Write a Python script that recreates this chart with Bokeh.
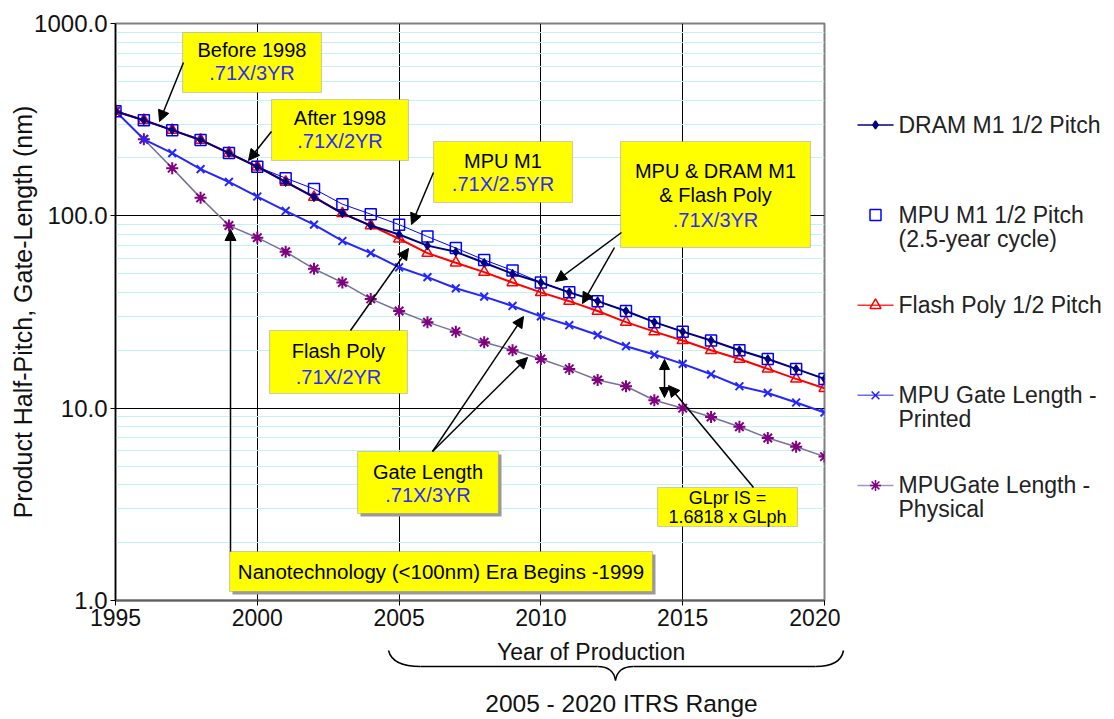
from bokeh.plotting import figure
from bokeh.layouts import column, row
from bokeh.models import Range1d, FixedTicker, PrintfTickFormatter, BoxAnnotation, Label, Arrow, NormalHead
from bokeh.core.properties import value
from bokeh.embed import file_html
from bokeh.resources import INLINE

# ---------------- data ----------------
years = list(range(1995, 2021))
dram_m1 = [350, 314, 279, 248, 212, 180, 150, 125, 103, 89, 80, 70, 65, 57, 50, 45, 40, 36, 32, 28, 25, 22.5, 20, 18, 16, 14.2]
mpu_m1 = [350, 314, 279, 248, 212, 180, 157, 138, 115, 102, 90, 78, 68, 59, 52, 45, 40, 36, 32, 28, 25, 22.5, 20, 18, 16, 14.2]
flash_poly = [350, 314, 279, 248, 212, 180, 150, 125, 103, 89, 76, 64, 57, 51, 45, 40, 36, 32, 28, 25, 22.5, 20, 18, 16, 14.2, 12.7]
mpu_gl_printed = [350, 250, 212, 175, 150, 126, 106, 90, 74, 64, 54, 48, 42, 38, 34, 30, 27, 24, 21, 19, 17, 15, 13, 12, 10.7, 9.5]
mpu_gl_physical = [350, 250, 177, 124, 89, 77, 65, 53, 45, 37, 32, 28, 25, 22, 20, 18, 16, 14, 13, 11, 10, 9, 8, 7, 6.3, 5.6]

x_ticks = [1995, 2000, 2005, 2010, 2015, 2020]
y_ticks = [1, 10, 100, 1000]
y_minor = [m * d for d in (1, 10, 100) for m in range(2, 10)]

legend_labels = ["DRAM M1 1/2 Pitch", "MPU M1 1/2 Pitch\n(2.5-year cycle)", "Flash Poly 1/2 Pitch",
                 "MPU Gate Length -\nPrinted", "MPUGate Length -\nPhysical"]

FONT = "Liberation Sans"

# ---------------- main plot ----------------
p = figure(width=840, height=637, y_axis_type="log",
           x_range=Range1d(1995, 2020), y_range=Range1d(1, 1000),
           output_backend="svg", toolbar_location=None,
           min_border_left=115, min_border_right=16, min_border_top=23, min_border_bottom=37)
p.background_fill_color = "white"
p.border_fill_color = "white"
p.outline_line_color = "#808080"
p.outline_line_width = 2

p.xaxis.ticker = FixedTicker(ticks=x_ticks, minor_ticks=[])
p.yaxis.ticker = FixedTicker(ticks=y_ticks, minor_ticks=y_minor)
p.yaxis.formatter = PrintfTickFormatter(format="%.1f")
p.xgrid.grid_line_color = "black"
p.xgrid.grid_line_width = 1
p.ygrid.grid_line_color = "black"
p.ygrid.grid_line_width = 1
p.ygrid.minor_grid_line_color = "#c2f3f3"
p.ygrid.minor_grid_line_width = 1

for ax in (p.xaxis, p.yaxis):
    ax.major_label_text_font = FONT
    ax.major_label_text_font_size = "23px"
    ax.major_label_text_color = "#111111"
    ax.axis_label_text_font = FONT
    ax.axis_label_text_font_size = "25px"
    ax.axis_label_text_font_style = "normal"
    ax.axis_label_text_color = "#111111"
    ax.minor_tick_line_color = None
    ax.major_tick_in = 0
    ax.major_tick_out = 5
    ax.major_tick_line_color = "black"
    ax.major_label_standoff = 3

p.yaxis.major_label_text_font_size = "24px"
p.yaxis.axis_label = "Product Half-Pitch, Gate-Length (nm)"
p.yaxis.axis_label_standoff = -6
p.yaxis.axis_line_color = "black"
p.yaxis.axis_line_width = 1.5
p.xaxis.axis_line_color = "#606060"
p.xaxis.axis_line_width = 2

# series
p.line(years, mpu_gl_physical, line_color="#76709a", line_width=1.5)
p.scatter(years, mpu_gl_physical, marker="asterisk", size=12, line_color="#800080", line_width=2)
p.line(years, mpu_gl_printed, line_color="#2626ff", line_width=2)
p.scatter(years, mpu_gl_printed, marker="x", size=11, line_color="#2626ff", line_width=2)
p.line(years, flash_poly, line_color="#ff0000", line_width=2)
p.scatter(years, flash_poly, marker="triangle", size=11, line_color="#ff0000", fill_color=None, line_width=1.5)
p.line(years, mpu_m1, line_color="#0000ff", line_width=1)
p.scatter(years, mpu_m1, marker="square", size=11, line_color="#0000ff", fill_color=None, line_width=1.5)
p.line(years, dram_m1, line_color="#000080", line_width=2)
p.scatter(years, dram_m1, marker="diamond", size=9, line_color="#000080", fill_color="#000080")


# ---------------- annotations (reference pixel geometry -> data) ----------------
def X(px):
    return 1995 + (px - 115) * 25.0 / 709.0


def Y(py):
    return 10 ** ((600 - py) * 3.0 / 577.0)


boxes = [
    # (left, top, right, bottom, lines[(text, y, color)], font, shadow)
    (182, 32, 321, 92, [("Before 1998", 49, "black"), (".71X/3YR", 72, "#2b2bff")], 20, False),
    (271, 99, 408, 160, [("After 1998", 117, "black"), (".71X/2YR", 140, "#2b2bff")], 20, False),
    (433, 141, 572, 202, [("MPU M1", 160, "black"), (".71X/2.5YR", 183, "#2b2bff")], 20, False),
    (620, 141, 810, 247, [("MPU & DRAM M1", 170, "black"), ("& Flash Poly", 194, "black"),
                          (".71X/3YR", 219, "#2b2bff")], 20, False),
    (269, 330, 407, 393, [("Flash Poly", 350, "black"), (".71X/2YR", 376, "#2b2bff")], 20, False),
    (357, 451, 498, 513, [("Gate Length", 471, "black"), (".71X/3YR", 494, "#2b2bff")], 20, True),
    (657, 487, 797, 526, [("GLpr IS =", 497, "black"), ("1.6818 x GLph", 516, "black")], 18, False),
    (229, 551, 652, 591, [("Nanotechnology (<100nm) Era Begins -1999", 571, "black")], 20.5, True),
]

for (l, t, r, b, lines, fs, shadow) in boxes:
    if shadow:
        p.add_layout(BoxAnnotation(left=X(l + 3), right=X(r + 3), top=Y(t + 3), bottom=Y(b + 3),
                                   fill_color="#9a9a9a", fill_alpha=1.0, line_color=None))
    p.add_layout(BoxAnnotation(left=X(l), right=X(r), top=Y(t), bottom=Y(b),
                               fill_color="#ffff00", fill_alpha=1.0,
                               line_color="#5a5aff", line_width=1.2))
    cx = (l + r) / 2.0
    for (txt, ty, col) in lines:
        p.add_layout(Label(x=X(cx), y=Y(ty), text=txt, text_align="center", text_baseline="middle",
                           text_font=FONT, text_font_size="%gpx" % fs, text_color=col))

arrows = [
    (183, 62, 159, 121),
    (271, 131, 248, 160),
    (433, 172, 411, 224),
    (621, 232, 555, 281),
    (614, 247, 582, 303),
    (350, 330, 408, 248),
    (432, 451, 523, 316),
    (432, 451, 527, 357),
    (753, 487, 668, 385),
    (230, 551, 230, 229),
]
for (x0, y0, x1, y1) in arrows:
    p.add_layout(Arrow(end=NormalHead(size=11, fill_color="black", line_color="black"),
                       x_start=X(x0), y_start=Y(y0), x_end=X(x1), y_end=Y(y1),
                       line_color="black", line_width=1.5))
# double headed arrow between printed and physical gate length
p.add_layout(Arrow(start=NormalHead(size=10, fill_color="black", line_color="black"),
                   end=NormalHead(size=10, fill_color="black", line_color="black"),
                   x_start=X(664), y_start=Y(397), x_end=X(664), y_end=Y(359),
                   line_color="black", line_width=1.5))

# ---------------- legend panel ----------------
pleg = figure(width=274, height=637, x_range=Range1d(840, 1114), y_range=Range1d(637, 0),
              output_backend="svg", toolbar_location=None, min_border=0,
              x_axis_location=None, y_axis_location=None)
pleg.grid.visible = False
pleg.outline_line_color = None
pleg.background_fill_color = "white"
pleg.border_fill_color = "white"

leg_style = [
    dict(line="#000080", marker="diamond", mline="#000080", mfill="#000080", size=8),
    dict(line=None, marker="square", mline="#0000ff", mfill=None, size=11),
    dict(line="#ff3030", marker="triangle", mline="#ff0000", mfill=None, size=11),
    dict(line="#6a6aff", marker="x", mline="#2020ff", mfill=None, size=11),
    dict(line="#9a96cc", marker="asterisk", mline="#800080", mfill=None, size=11),
]
leg_y0 = 112
leg_dy = 99.5
for i, (lab, st) in enumerate(zip(legend_labels, leg_style)):
    yy = leg_y0 + i * leg_dy
    if st["line"]:
        pleg.line([857, 893], [yy, yy], line_color=st["line"], line_width=1.5)
    pleg.scatter([875], [yy], marker=st["marker"], size=st["size"], line_color=st["mline"],
                 fill_color=st["mfill"], line_width=1.5)
    parts = lab.split("\n")
    pleg.text(x=[898] * len(parts), y=[yy + k * 26 for k in range(len(parts))], text=parts,
              text_font=value(FONT), text_font_size="23px", text_align="left",
              text_baseline="middle", text_color="#222222")

# ---------------- bottom panel: axis title + ITRS range brace ----------------
pb = figure(width=1114, height=82, x_range=Range1d(0, 1114), y_range=Range1d(719, 637),
            output_backend="svg", toolbar_location=None, min_border=0,
            x_axis_location=None, y_axis_location=None)
pb.grid.visible = False
pb.outline_line_color = None
pb.background_fill_color = "white"
pb.border_fill_color = "white"

pb.text(x=[597], y=[651], text=["Year   of Production"], text_font=value(FONT), text_font_size="23px",
        text_align="center", text_baseline="middle", text_color="#111111")
# brace
pb.quadratic(x0=[388, 597, 615, 815], y0=[650, 666, 680, 666],
             x1=[420, 615, 633, 843], y1=[666, 680, 666, 650],
             cx=[392, 613, 617, 840], cy=[666, 666, 666, 666], line_color="black", line_width=1.5)
pb.segment(x0=[420, 633], y0=[666, 666], x1=[597, 815], y1=[666, 666], line_color="black", line_width=1.5)
pb.text(x=[621], y=[703], text=["2005 - 2020 ITRS Range"], text_font=value(FONT), text_font_size="24.5px",
        text_align="center", text_baseline="middle", text_color="#111111")

layout = column(row(p, pleg), pb)
open("out.html", "w").write(file_html(layout, INLINE))
